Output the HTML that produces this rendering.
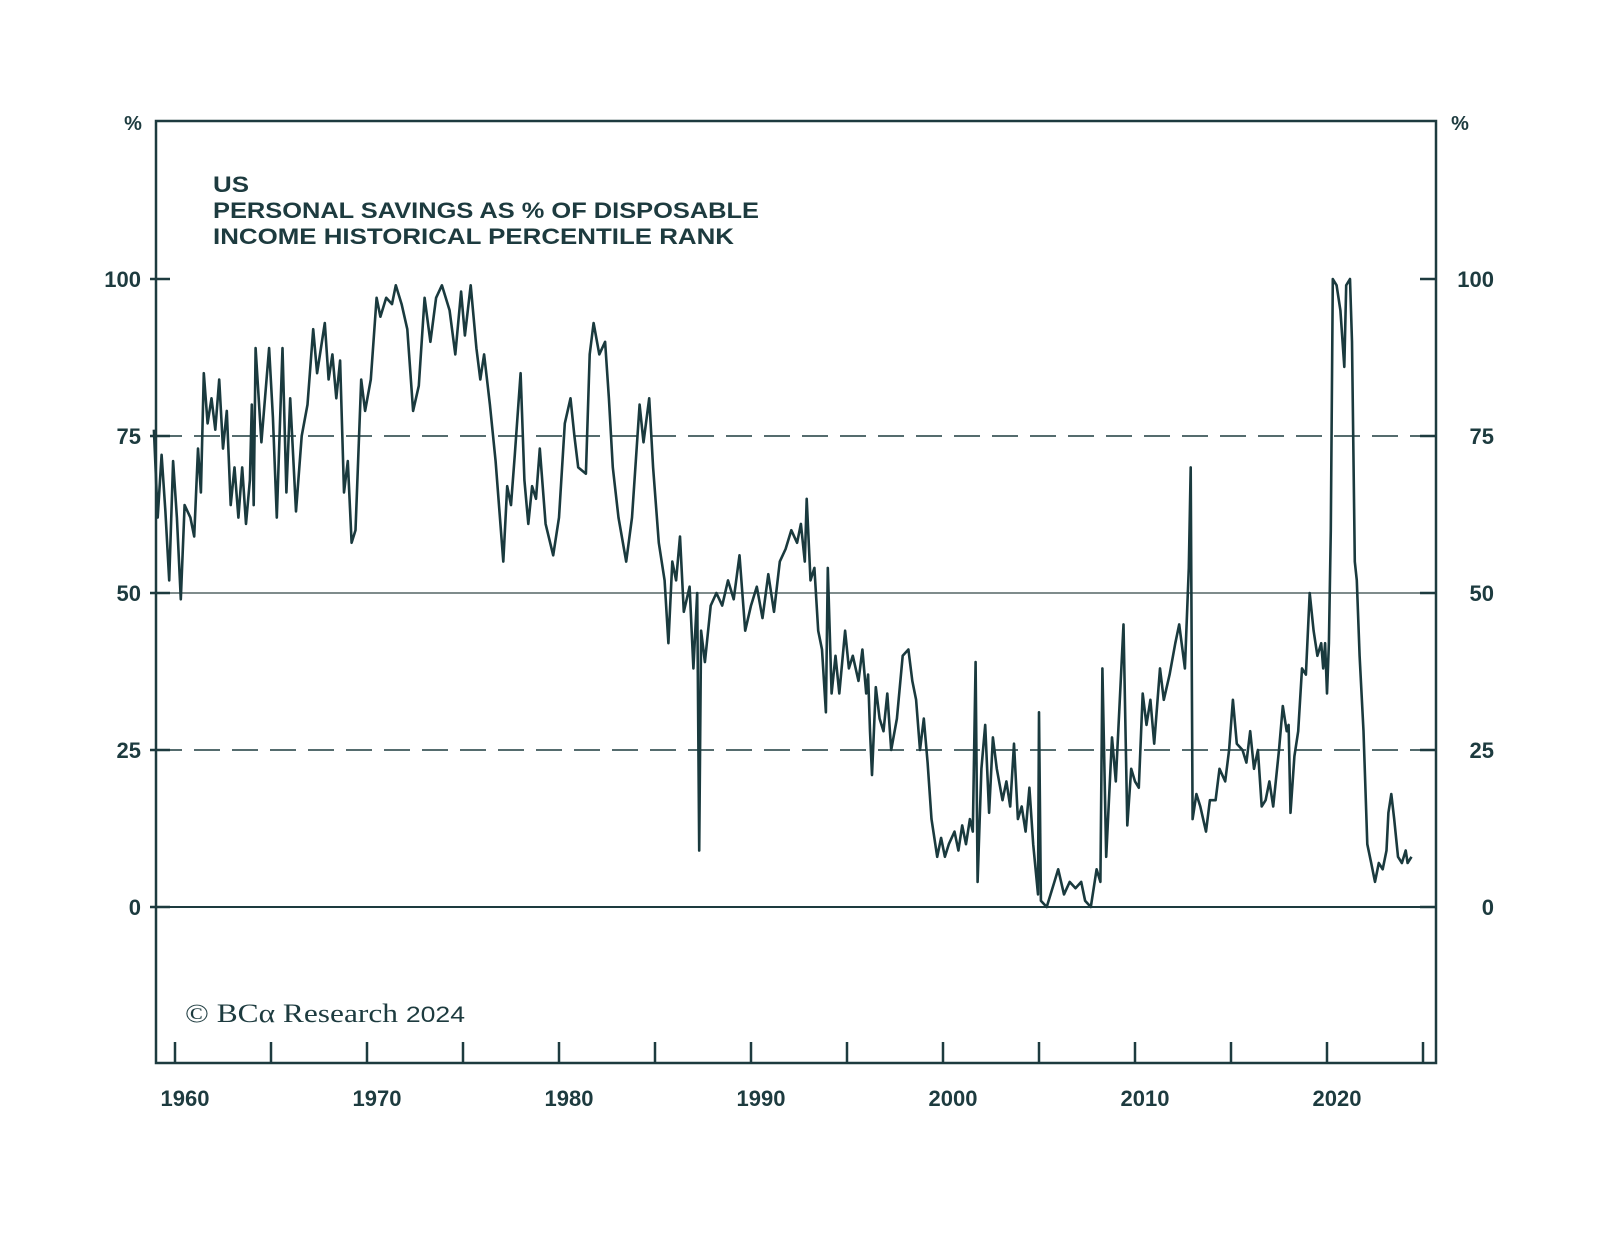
<!DOCTYPE html>
<html><head><meta charset="utf-8"><style>
html,body{margin:0;padding:0;background:#fff;}
svg{display:block;}
text{font-family:"Liberation Sans",sans-serif;fill:#1d3b3f;}
</style></head><body>
<svg id="chart" width="1600" height="1237" viewBox="0 0 1600 1237" xmlns="http://www.w3.org/2000/svg">
<rect x="0" y="0" width="1600" height="1237" fill="#fff"/>
<g id="grid"></g>
<path id="series" fill="none" stroke="#1a3a3e" stroke-width="2.6" stroke-linejoin="round"/>
<rect x="156" y="121" width="1280" height="942" fill="none" stroke="#1d3b3f" stroke-width="2.5"/>
<g id="axes"></g>
<text x="213" y="192" font-size="22" font-weight="bold" textLength="36" lengthAdjust="spacingAndGlyphs">US</text>
<text x="213" y="218" font-size="22" font-weight="bold" textLength="546" lengthAdjust="spacingAndGlyphs">PERSONAL SAVINGS AS % OF DISPOSABLE</text>
<text x="213" y="244" font-size="22" font-weight="bold" textLength="521" lengthAdjust="spacingAndGlyphs">INCOME HISTORICAL PERCENTILE RANK</text>
<text x="185" y="1022" font-size="26" textLength="280" lengthAdjust="spacingAndGlyphs" style="font-family:'Liberation Serif',serif">© BCα Research <tspan style="font-family:'Liberation Sans',sans-serif" font-size="22">2024</tspan></text>
<text x="133" y="130" font-size="20" font-weight="bold" text-anchor="middle">%</text>
<text x="1460" y="130" font-size="20" font-weight="bold" text-anchor="middle">%</text>
</svg>
<script>
const yTicks=[0,25,50,75,100];
const xTickYears=[1960,1965,1970,1975,1980,1985,1990,1995,2000,2005,2010,2015,2020,2025];
const xLabels=[1960,1970,1980,1990,2000,2010,2020];
const years=[1958.9,1959.1,1959.3,1959.5,1959.7,1959.9,1960.1,1960.3,1960.5,1960.8,1961.0,1961.2,1961.35,1961.5,1961.7,1961.9,1962.1,1962.3,1962.5,1962.7,1962.9,1963.1,1963.3,1963.5,1963.7,1963.9,1964.0,1964.1,1964.2,1964.5,1964.9,1965.1,1965.3,1965.6,1965.8,1966.0,1966.3,1966.6,1966.9,1967.2,1967.4,1967.8,1968.0,1968.2,1968.4,1968.6,1968.8,1969.0,1969.2,1969.4,1969.7,1969.9,1970.2,1970.5,1970.7,1971.0,1971.3,1971.5,1971.8,1972.1,1972.4,1972.7,1973.0,1973.3,1973.6,1973.9,1974.3,1974.6,1974.9,1975.1,1975.4,1975.7,1975.9,1976.1,1976.4,1976.7,1977.1,1977.3,1977.5,1977.7,1978.0,1978.2,1978.4,1978.6,1978.8,1979.0,1979.3,1979.7,1980.0,1980.3,1980.6,1980.8,1981.0,1981.4,1981.6,1981.8,1982.1,1982.4,1982.6,1982.8,1983.1,1983.5,1983.8,1984.2,1984.4,1984.7,1984.9,1985.2,1985.5,1985.7,1985.9,1986.1,1986.3,1986.5,1986.8,1987.0,1987.2,1987.3,1987.4,1987.6,1987.9,1988.2,1988.5,1988.8,1989.1,1989.4,1989.7,1990.0,1990.3,1990.6,1990.9,1991.2,1991.5,1991.8,1992.1,1992.4,1992.6,1992.8,1992.9,1993.1,1993.3,1993.5,1993.7,1993.9,1994.0,1994.2,1994.4,1994.6,1994.9,1995.1,1995.3,1995.6,1995.8,1996.0,1996.1,1996.2,1996.3,1996.5,1996.7,1996.9,1997.1,1997.3,1997.6,1997.9,1998.2,1998.4,1998.6,1998.8,1999.0,1999.2,1999.4,1999.6,1999.7,1999.9,2000.1,2000.3,2000.6,2000.8,2001.0,2001.2,2001.4,2001.55,2001.7,2001.8,2002.0,2002.2,2002.4,2002.6,2002.8,2003.1,2003.3,2003.5,2003.7,2003.9,2004.1,2004.3,2004.5,2004.7,2004.95,2005.0,2005.1,2005.4,2005.8,2006.0,2006.3,2006.6,2006.9,2007.2,2007.4,2007.7,2008.0,2008.2,2008.3,2008.5,2008.8,2009.0,2009.4,2009.6,2009.8,2010.0,2010.2,2010.4,2010.6,2010.8,2011.0,2011.3,2011.5,2011.8,2012.1,2012.3,2012.6,2012.8,2012.9,2013.0,2013.2,2013.4,2013.7,2013.9,2014.2,2014.4,2014.7,2014.9,2015.1,2015.3,2015.6,2015.8,2016.0,2016.2,2016.4,2016.6,2016.8,2017.0,2017.2,2017.5,2017.7,2017.9,2018.0,2018.1,2018.3,2018.5,2018.7,2018.9,2019.1,2019.3,2019.5,2019.7,2019.8,2019.9,2020.0,2020.1,2020.2,2020.3,2020.5,2020.7,2020.9,2021.0,2021.2,2021.3,2021.45,2021.55,2021.7,2021.9,2022.1,2022.3,2022.5,2022.7,2022.9,2023.1,2023.2,2023.35,2023.5,2023.7,2023.9,2024.1,2024.2,2024.4];
const values=[76,62,72,63,52,71,62,49,64,62,59,73,66,85,77,81,76,84,73,79,64,70,62,70,61,68,80,64,89,74,89,78,62,89,66,81,63,75,80,92,85,93,84,88,81,87,66,71,58,60,84,79,84,97,94,97,96,99,96,92,79,83,97,90,97,99,95,88,98,91,99,89,84,88,80,71,55,67,64,72,85,68,61,67,65,73,61,56,62,77,81,75,70,69,88,93,88,90,81,70,62,55,62,80,74,81,70,58,52,42,55,52,59,47,51,38,50,9,44,39,48,50,48,52,49,56,44,48,51,46,53,47,55,57,60,58,61,55,65,52,54,44,41,31,54,34,40,34,44,38,40,36,41,34,37,28,21,35,30,28,34,25,30,40,41,36,33,25,30,23,14,10,8,11,8,10,12,9,13,10,14,12,39,4,22,29,15,27,22,17,20,16,26,14,16,12,19,10,2,31,1,0,4,6,2,4,3,4,1,0,6,4,38,8,27,20,45,13,22,20,19,34,29,33,26,38,33,37,42,45,38,54,70,14,18,16,12,17,17,22,20,25,33,26,25,23,28,22,25,16,17,20,16,25,32,28,29,15,24,28,38,37,50,44,40,42,38,42,34,42,60,100,99,95,86,99,100,90,55,52,40,28,10,7,4,7,6,9,15,18,14,8,7,9,7,8];

const X=yr=>175+(yr-1960)*19.2;
const Y=v=>907-v*6.28;
const NS='http://www.w3.org/2000/svg';
function mk(tag,attrs,parent){const e=document.createElementNS(NS,tag);for(const k in attrs)e.setAttribute(k,attrs[k]);parent.appendChild(e);return e;}
const grid=document.getElementById('grid'),axes=document.getElementById('axes');
yTicks.forEach(v=>{
  const y=Y(v);
  let st={stroke:'#1d3b3f','stroke-width':2};
  if(v===50)st={stroke:'#7f8c8c','stroke-width':2};
  if(v===25||v===75)st={stroke:'#1d3b3f','stroke-width':1.6,'stroke-dasharray':'26,12'};
  if(v!==100){const l=mk('line',Object.assign({x1:156,x2:1436,y1:y,y2:y},st),grid);
  
  }
  const t1=mk('line',{x1:150,x2:170,y1:y,y2:y,stroke:'#1d3b3f','stroke-width':2.5},axes);
  
  
  const t2=mk('line',{x1:1420,x2:1436,y1:y,y2:y,stroke:'#1d3b3f','stroke-width':2.5},axes);
  
  
  const a=mk('text',{x:141,y:y+8,'font-size':22,'font-weight':'bold','text-anchor':'end'},axes);a.textContent=v;
  
  
  const b=mk('text',{x:1494,y:y+8,'font-size':22,'font-weight':'bold','text-anchor':'end'},axes);b.textContent=v;
  
  
});
xTickYears.forEach(yr=>{
  const t=mk('line',{x1:X(yr),x2:X(yr),y1:1042,y2:1063,stroke:'#1d3b3f','stroke-width':2.5},axes);
  
  
});
xLabels.forEach(yr=>{
  const t=mk('text',{x:X(yr)+10,y:1106,'font-size':22,'font-weight':'bold','text-anchor':'middle'},axes);t.textContent=yr;
  
  
});
document.getElementById('series').setAttribute('d',years.map((yr,i)=>(i?'L':'M')+X(yr).toFixed(1)+','+Y(values[i]).toFixed(1)).join(''));
</script>
</body></html>
